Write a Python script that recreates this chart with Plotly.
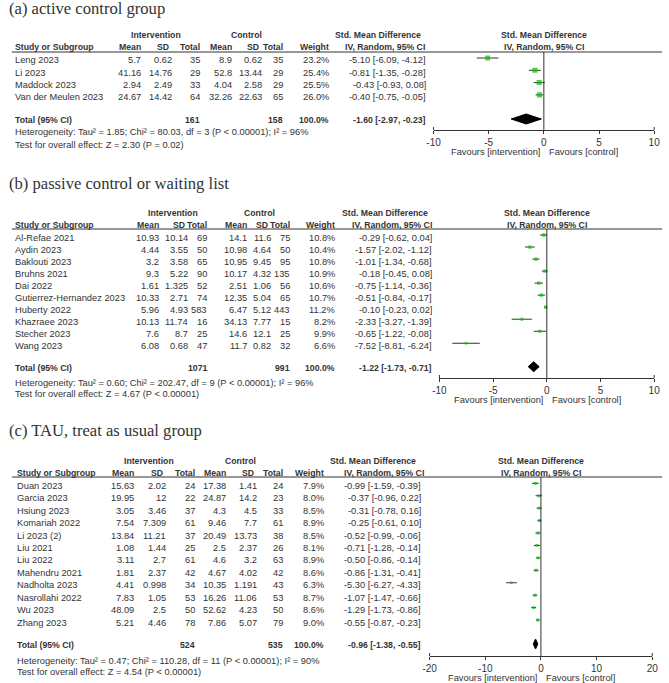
import plotly.graph_objects as go

TEXT = "#333333"
LINE = "#333333"
GREEN = "#00c000"
SANS = "Liberation Sans, Arial, sans-serif"
SERIF = "Liberation Serif, Times New Roman, serif"
W, H = 669, 683
FS = 9.3
HS = 8.7

# ---- (a) active control group ----
a_title = "(a) active control group"
a_study = ["Leng 2023", "Li 2023", "Maddock 2023", "Van der Meulen 2023"]
a_int_mean = [5.7, 41.16, 2.94, 24.67]
a_int_sd = [0.62, 14.76, 2.49, 14.42]
a_int_n = [35, 29, 33, 64]
a_ctl_mean = [8.9, 52.8, 4.04, 32.26]
a_ctl_sd = [0.62, 13.44, 2.58, 22.63]
a_ctl_n = [35, 29, 29, 65]
a_weight = [23.2, 25.4, 25.5, 26.0]
a_smd = [-5.10, -0.81, -0.43, -0.40]
a_lo = [-6.09, -1.35, -0.93, -0.75]
a_hi = [-4.12, -0.28, 0.08, -0.05]
a_total_n = [161, 158]
a_total_ci = [-1.60, -2.97, -0.23]
a_het = [1.85, 80.03, 3, 96]
a_z = ["2.30", "= 0.02"]

# ---- (b) passive control or waiting list ----
b_title = "(b) passive control or waiting list"
b_study = ["Al-Refae 2021", "Aydin 2023", "Baklouti 2023", "Bruhns 2021", "Dai 2022",
           "Gutierrez-Hernandez 2023", "Huberty 2022", "Khazraee 2023", "Stecher 2023", "Wang 2023"]
b_int_mean = [10.93, 4.44, 3.2, 9.3, 1.61, 10.33, 5.96, 10.13, 7.6, 6.08]
b_int_sd = [10.14, 3.55, 3.58, 5.22, 1.325, 2.71, 4.93, 11.74, 8.7, 0.68]
b_int_n = [69, 50, 65, 90, 52, 74, 583, 16, 25, 47]
b_ctl_mean = [14.1, 10.98, 10.95, 10.17, 2.51, 12.35, 6.47, 34.13, 14.6, 11.7]
b_ctl_sd = [11.6, 4.64, 9.45, 4.32, 1.06, 5.04, 5.12, 7.77, 12.1, 0.82]
b_ctl_n = [75, 50, 95, 135, 56, 65, 443, 15, 25, 32]
b_weight = [10.8, 10.4, 10.8, 10.9, 10.6, 10.7, 11.2, 8.2, 9.9, 6.6]
b_smd = [-0.29, -1.57, -1.01, -0.18, -0.75, -0.51, -0.10, -2.33, -0.65, -7.52]
b_lo = [-0.62, -2.02, -1.34, -0.45, -1.14, -0.84, -0.23, -3.27, -1.22, -8.81]
b_hi = [0.04, -1.12, -0.68, 0.08, -0.36, -0.17, 0.02, -1.39, -0.08, -6.24]
b_total_n = [1071, 991]
b_total_ci = [-1.22, -1.73, -0.71]
b_het = [0.60, 202.47, 9, 96]
b_z = ["4.67", "< 0.00001"]

# ---- (c) TAU, treat as usual group ----
c_title = "(c) TAU, treat as usual group"
c_study = ["Duan 2023", "Garcia 2023", "Hsiung 2023", "Komariah 2022", "Li 2023 (2)", "Liu 2021",
           "Liu 2022", "Mahendru 2021", "Nadholta 2023", "Nasrollahi 2022", "Wu 2023", "Zhang 2023"]
c_int_mean = [15.63, 19.95, 3.05, 7.54, 13.84, 1.08, 3.11, 1.81, 4.41, 7.83, 48.09, 5.21]
c_int_sd = [2.02, 12, 3.46, 7.309, 11.21, 1.44, 2.7, 2.37, 0.998, 1.05, 2.5, 4.46]
c_int_n = [24, 22, 37, 61, 37, 25, 61, 42, 34, 53, 50, 78]
c_ctl_mean = [17.38, 24.87, 4.3, 9.46, 20.49, 2.5, 4.6, 4.67, 10.35, 16.26, 52.62, 7.86]
c_ctl_sd = [1.41, 14.2, 4.5, 7.7, 13.73, 2.37, 3.2, 4.02, 1.191, 11.06, 4.23, 5.07]
c_ctl_n = [24, 23, 33, 61, 38, 26, 63, 42, 43, 53, 50, 79]
c_weight = [7.9, 8.0, 8.5, 8.9, 8.5, 8.1, 8.9, 8.6, 6.3, 8.7, 8.6, 9.0]
c_smd = [-0.99, -0.37, -0.31, -0.25, -0.52, -0.71, -0.50, -0.86, -5.30, -1.07, -1.29, -0.55]
c_lo = [-1.59, -0.96, -0.78, -0.61, -0.99, -1.28, -0.86, -1.31, -6.27, -1.47, -1.73, -0.87]
c_hi = [-0.39, 0.22, 0.16, 0.10, -0.06, -0.14, -0.14, -0.41, -4.33, -0.66, -0.86, -0.23]
c_total_n = [524, 535]
c_total_ci = [-0.96, -1.38, -0.55]
c_het = [0.47, 110.28, 11, 90]
c_z = ["4.54", "< 0.00001"]

# pixel geometry of each panel (layout only)
GEOM = {
    "a": dict(title=8, hdr1=35, hdr2=47, line=52, row0=58, step=12.3, tot=119, axis=130,
              het=132, test=145, fav=152, xlo=435, xhi=660, xr=10,
              cols=[137, 168, 197, 229, 260, 281, 328, 427], study=8,
              int_c=152, ctl_c=244, smd_c=378, iv_c=386),
    "b": dict(title=183, hdr1=213, hdr2=225, line=229, row0=235, step=12.03, tot=366.7, axis=378,
              het=383, test=394, fav=400, xlo=441, xhi=660, xr=10,
              cols=[155, 185, 204, 245, 269, 289, 335, 433], study=8,
              int_c=169, ctl_c=257, smd_c=385, iv_c=393),
    "c": dict(title=430, hdr1=461, hdr2=473, line=477, row0=483.3, step=12.43, tot=644, axis=656,
              het=661, test=672, fav=678, xlo=431, xhi=658, xr=20,
              cols=[130, 162, 192, 223, 255, 281, 323, 422], study=10,
              int_c=145, ctl_c=238, smd_c=373, iv_c=384),
}

fig = go.Figure()
annotations = []
shapes = []


def txt(x, y, s, anchor="right", bold=False, size=FS, family=SANS, xshift=0):
    return dict(x=x / W, y=1 - y / H, xref="paper", yref="paper", xshift=xshift,
                text=f"<b>{s}</b>" if bold else s, showarrow=False,
                xanchor=anchor, yanchor="middle", borderpad=0, borderwidth=0,
                font=dict(family=family, size=size, color=TEXT))


def panel(n, key, title, study, im, isd, inn, cm, csd, cn, wt, smd, lo, hi,
          total_n, total_ci, het, z):
    g = GEOM[key]
    sfx = "" if n == 1 else str(n)
    xa, ya = "x" + sfx, "y" + sfx
    tot_idx = (g["tot"] - g["row0"]) / g["step"]
    rows = list(range(len(study)))

    # study squares with CI whiskers
    fig.add_trace(go.Scatter(
        x=smd, y=rows, mode="markers", xaxis=xa, yaxis=ya,
        marker=dict(symbol="square", color=GREEN, size=[w ** 0.5 for w in wt], line=dict(width=0)),
        error_x=dict(type="data", symmetric=False,
                     array=[h - s for h, s in zip(hi, smd)],
                     arrayminus=[s - l for s, l in zip(smd, lo)],
                     color=LINE, thickness=1, width=0),
        hoverinfo="skip", showlegend=False))

    # pooled diamond
    est, dlo, dhi = total_ci
    hh = 5 / g["step"]
    fig.add_trace(go.Scatter(
        x=[dlo, est, dhi, est, dlo], y=[tot_idx, tot_idx - hh, tot_idx, tot_idx + hh, tot_idx],
        mode="lines", fill="toself", fillcolor="black", line=dict(color="black", width=1),
        xaxis=xa, yaxis=ya, hoverinfo="skip", showlegend=False))

    xr = g["xr"]
    fig.layout["xaxis" + sfx] = dict(
        domain=[g["xlo"] / W, g["xhi"] / W], range=[-xr, xr], anchor=ya,
        showgrid=False, zeroline=False, showline=True, linecolor=LINE, linewidth=1,
        ticks="outside", ticklen=3, tickcolor=LINE,
        tickvals=[-xr, -xr / 2, 0, xr / 2, xr],
        ticktext=[str(-xr), str(-xr // 2), "0", str(xr // 2), str(xr)],
        tickfont=dict(family=SANS, size=10, color=TEXT), fixedrange=True)
    fig.layout["yaxis" + sfx] = dict(
        domain=[1 - g["axis"] / H, 1 - g["line"] / H],
        range=[(g["axis"] - g["row0"]) / g["step"], (g["line"] - g["row0"]) / g["step"]],
        anchor=xa, visible=False, fixedrange=True)

    # zero line, end ticks
    shapes.append(dict(type="line", xref=xa, yref=ya + " domain", x0=0, x1=0, y0=0, y1=1,
                       line=dict(color=LINE, width=1)))
    for ex in (0, 1):
        shapes.append(dict(type="line", xref=xa + " domain", yref="paper", x0=ex, x1=ex,
                           y0=1 - g["axis"] / H, y1=1 - (g["axis"] - 3) / H,
                           line=dict(color=LINE, width=1)))
    # header rule
    shapes.append(dict(type="line", xref="paper", yref="paper", x0=5 / W, x1=668 / W,
                       y0=1 - g["line"] / H, y1=1 - g["line"] / H, line=dict(color=LINE, width=1)))

    # title and headers
    annotations.append(txt(2, g["title"], title, "left", size=16.6, family=SERIF))
    annotations.append(txt(g["int_c"], g["hdr1"], "Intervention", "center", True, HS))
    annotations.append(txt(g["ctl_c"], g["hdr1"], "Control", "center", True, HS))
    annotations.append(txt(g["smd_c"], g["hdr1"], "Std. Mean Difference", "center", True, HS))
    annotations.append(txt(g["iv_c"], g["hdr2"], "IV, Random, 95% CI", "center", True, HS))
    for hy, lab in ((g["hdr1"], "Std. Mean Difference"), (g["hdr2"], "IV, Random, 95% CI")):
        annotations.append(dict(x=0, xref=xa, y=1 - hy / H, yref="paper", showarrow=False,
                                text=f"<b>{lab}</b>", xanchor="center", yanchor="middle",
                                borderpad=0, borderwidth=0,
                                font=dict(family=SANS, size=HS, color=TEXT)))
    annotations.append(txt(g["study"], g["hdr2"], "Study or Subgroup", "left", True, HS))
    heads = ["Mean", "SD", "Total", "Mean", "SD", "Total", "Weight"]
    for cx, lab in zip(g["cols"][:7], heads):
        annotations.append(txt(cx, g["hdr2"], lab, "right", True, HS,
                               xshift=-3 if lab == "SD" else 0))

    # rows
    cols = g["cols"]
    for i in rows:
        y = g["row0"] + i * g["step"] + 2.5
        annotations.append(txt(g["study"], y, study[i], "left"))
        vals = [f"{im[i]:g}", f"{isd[i]:g}", str(inn[i]), f"{cm[i]:g}", f"{csd[i]:g}",
                str(cn[i]), f"{wt[i]:.1f}%", f"{smd[i]:.2f} [{lo[i]:.2f}, {hi[i]:.2f}]"]
        for cx, v in zip(cols, vals):
            annotations.append(txt(cx, y, v))

    # totals
    ty = g["tot"] + 1
    annotations.append(txt(g["study"], ty, "Total (95% CI)", "left", True, HS))
    annotations.append(txt(cols[2], ty, str(total_n[0]), bold=True, size=HS))
    annotations.append(txt(cols[5], ty, str(total_n[1]), bold=True, size=HS))
    annotations.append(txt(cols[6], ty, "100.0%", bold=True, size=HS))
    annotations.append(txt(cols[7], ty, f"{est:.2f} [{dlo:.2f}, {dhi:.2f}]", bold=True, size=HS))
    tau2, chi2, df, i2 = het
    annotations.append(txt(g["study"], g["het"],
                           f"Heterogeneity: Tau² = {tau2:.2f}; Chi² = {chi2:.2f}, df = {df} "
                           f"(P < 0.00001); I² = {i2}%", "left"))
    annotations.append(txt(g["study"], g["test"],
                           f"Test for overall effect: Z = {z[0]} (P {z[1]})", "left"))

    # favours labels
    for anchor, shift, lab in (("right", -4, "Favours [intervention]"), ("left", 5, "Favours [control]")):
        annotations.append(dict(x=0, xref=xa, y=1 - g["fav"] / H, yref="paper", xshift=shift,
                                text=lab, showarrow=False, xanchor=anchor, yanchor="middle",
                                borderpad=0, borderwidth=0,
                                font=dict(family=SANS, size=FS, color=TEXT)))


panel(1, "a", a_title, a_study, a_int_mean, a_int_sd, a_int_n, a_ctl_mean, a_ctl_sd, a_ctl_n,
      a_weight, a_smd, a_lo, a_hi, a_total_n, a_total_ci, a_het, a_z)
panel(2, "b", b_title, b_study, b_int_mean, b_int_sd, b_int_n, b_ctl_mean, b_ctl_sd, b_ctl_n,
      b_weight, b_smd, b_lo, b_hi, b_total_n, b_total_ci, b_het, b_z)
panel(3, "c", c_title, c_study, c_int_mean, c_int_sd, c_int_n, c_ctl_mean, c_ctl_sd, c_ctl_n,
      c_weight, c_smd, c_lo, c_hi, c_total_n, c_total_ci, c_het, c_z)

fig.update_layout(
    width=W, height=H, margin=dict(l=0, r=0, t=0, b=0),
    plot_bgcolor="white", paper_bgcolor="white",
    annotations=annotations, shapes=shapes, showlegend=False,
)

fig.write_html("out.html", config={"displayModeBar": False},
               post_script="document.body.style.margin='0';document.body.style.overflow='hidden';")
